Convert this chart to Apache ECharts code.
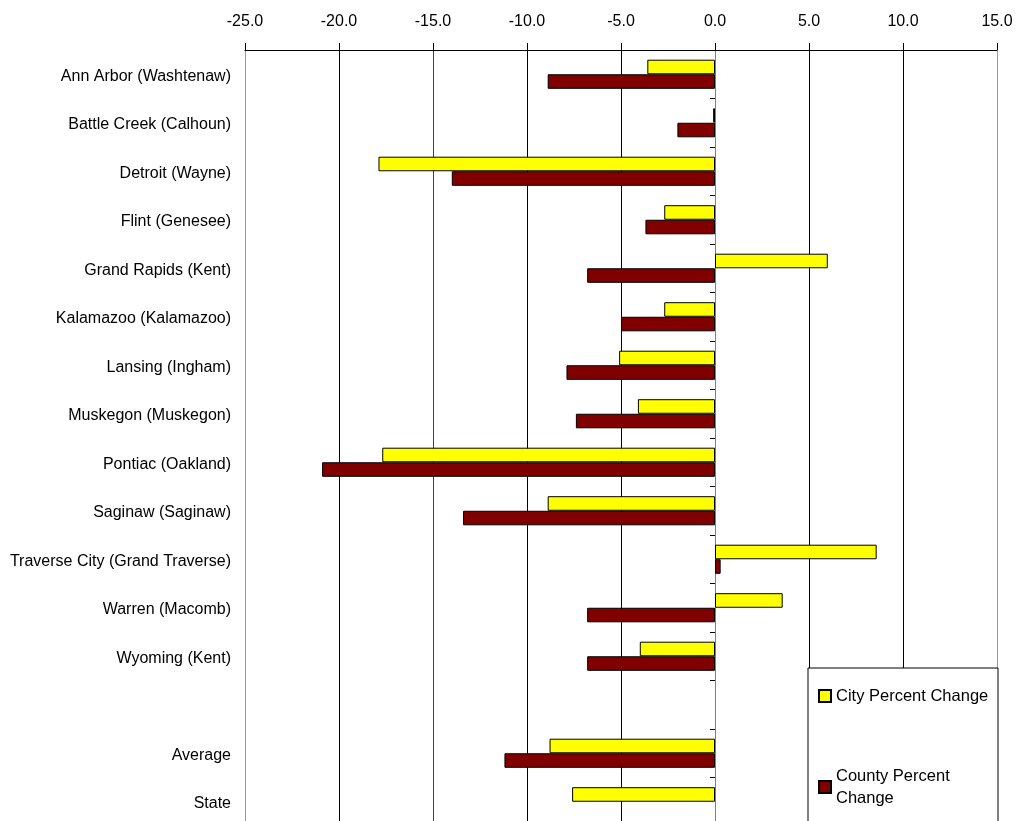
<!DOCTYPE html>
<html><head><meta charset="utf-8">
<script src="https://cdn.jsdelivr.net/npm/echarts@6/dist/echarts.min.js"></script>
<style>html,body{margin:0;padding:0;background:#fff}#c{width:1026px;height:821px}</style>
</head><body><div id="c"></div>
<script>
var categories = ['Ann Arbor (Washtenaw)','Battle Creek (Calhoun)','Detroit (Wayne)','Flint (Genesee)','Grand Rapids (Kent)','Kalamazoo (Kalamazoo)','Lansing (Ingham)','Muskegon (Muskegon)','Pontiac (Oakland)','Saginaw (Saginaw)','Traverse City (Grand Traverse)','Warren (Macomb)','Wyoming (Kent)','','Average','State'];
var cityChange = [-3.6,-0.1,-17.9,-2.7,6.0,-2.7,-5.1,-4.1,-17.7,-8.9,8.6,3.6,-4.0,null,-8.8,-7.6];
var countyChange = [-8.9,-2.0,-14.0,-3.7,-6.8,-5.0,-7.9,-7.4,-20.9,-13.4,0.3,-6.8,-6.8,null,-11.2,null];
var xMin = -25, xMax = 15, xStep = 5;

var chart = echarts.init(document.getElementById('c'));
var font = 'Liberation Sans, Arial, sans-serif';
chart.setOption({
  animation: false,
  backgroundColor: '#fff',
  textStyle: {fontFamily: font},
  grid: {left: 245, right: 29, top: 50, height: 776, outerBoundsMode: 'none', containLabel: false},
  xAxis: {
    type: 'value', position: 'top', min: xMin, max: xMax, interval: xStep,
    axisLine: {show: true, onZero: false, lineStyle: {color: '#000', width: 1}},
    axisTick: {show: true, length: 7, lineStyle: {color: '#000'}},
    axisLabel: {color: '#000', fontSize: 16, fontFamily: font, margin: 20,
      formatter: function(v){ return v.toFixed(1); }},
    splitLine: {show: true, lineStyle: {color: ['#999','#000','#444','#000','#000','#000','#000','#000','#999'], width: 1}}
  },
  yAxis: [{
    type: 'category', data: categories, inverse: true, position: 'left',
    axisLine: {show: false, onZero: false},
    axisTick: {show: false},
    axisLabel: {color: '#000', fontSize: 16, fontFamily: font, margin: 14, interval: 0,
      formatter: function(v){ return '{a|' + v + '}'; },
      rich: {a: {color: '#000', fontSize: 16, fontFamily: font, padding: [4, 0, 0, 0]}}}
  },{
    type: 'category', data: categories, inverse: true, position: 'left',
    axisLine: {show: true, onZero: true, lineStyle: {color: '#808080', width: 1}},
    axisTick: {show: true, length: 5, interval: 0, lineStyle: {color: '#000'}},
    axisLabel: {show: false}
  }],
  legend: {
    orient: 'vertical', left: 808, top: 668, height: 400,
    backgroundColor: '#fff', borderColor: '#000', borderWidth: 1,
    padding: [17, 9, 14, 10],
    icon: 'rect',
    itemWidth: 12, itemHeight: 12, itemGap: 58,
    textStyle: {color: '#000', fontSize: 16.5, fontFamily: font, lineHeight: 22, width: 153},
    formatter: function(n){ return n === 'County Percent Change' ? 'County Percent\nChange' : n; },
    data: ['City Percent Change','County Percent Change']
  },
  series: [{
    name: 'City Percent Change', type: 'bar', data: cityChange,
    barGap: '0%', barCategoryGap: '40%',
    itemStyle: {color: '#FFFF00', borderColor: '#000', borderWidth: 1}
  },{
    name: 'County Percent Change', type: 'bar', data: countyChange,
    barGap: '0%', barCategoryGap: '40%',
    itemStyle: {color: '#800000', borderColor: '#000', borderWidth: 1}
  }]
});
</script></body></html>
